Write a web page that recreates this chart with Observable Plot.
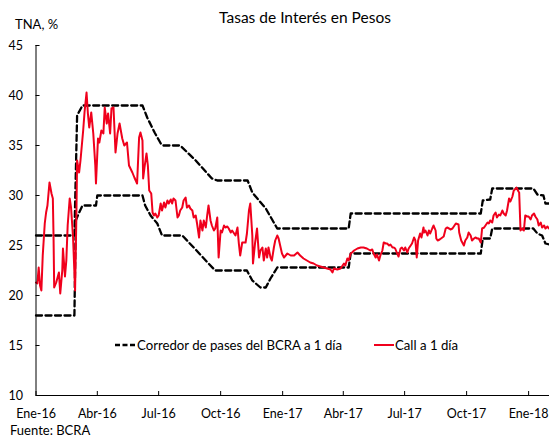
<!DOCTYPE html>
<html><head><meta charset="utf-8">
<script src="https://cdn.jsdelivr.net/npm/d3@7"></script>
<script src="https://cdn.jsdelivr.net/npm/@observablehq/plot@0.6"></script>
<style>
body{margin:0;background:#fff;}
#wrap{position:relative;width:549px;height:439px;font-family:Lato,sans-serif;color:#000;overflow:hidden;}
.t{position:absolute;white-space:nowrap;line-height:14px;}
</style></head><body>
<div id="wrap"></div>
<script>
const chartTitle = "Tasas de Interés en Pesos";
const yUnit = "TNA, %";
const source = "Fuente: BCRA";
const seriesNames = ["Corredor de pases del BCRA a 1 día", "Call a 1 día"];
const yTicks = [10, 15, 20, 25, 30, 35, 40, 45];
const xTickDates = ["2016-01-01","2016-04-01","2016-07-01","2016-10-01","2017-01-01","2017-04-01","2017-07-01","2017-10-01","2018-01-01"];
const xTickLabels = ["Ene-16","Abr-16","Jul-16","Oct-16","Ene-17","Abr-17","Jul-17","Oct-17","Ene-18"];
const xDomain = ["2016-01-01", "2018-02-01"];

const corridorUpper = [
["2016-01-01",26],["2016-02-27",26],["2016-03-02",38],["2016-03-10",39],["2016-06-07",39],["2016-06-14",37.8],
["2016-06-25",36.3],["2016-07-05",35.1],["2016-07-08",35],["2016-08-02",35],["2016-08-25",33.5],["2016-09-18",31.7],
["2016-09-26",31.5],["2016-11-10",31.5],["2016-11-17",30.3],["2016-12-07",28.7],["2016-12-24",26.7],["2017-04-09",26.7],
["2017-04-12",28.2],["2017-10-22",28.2],["2017-10-25",29.5],["2017-11-05",29.6],["2017-11-08",30.7],["2018-01-08",30.7],
["2018-01-14",30.1],["2018-01-23",30],["2018-01-26",29.2],["2018-02-01",29.2]
];
const corridorLower = [
["2016-01-01",18],["2016-02-27",18],["2016-02-29",27.5],["2016-03-05",28.3],["2016-03-10",29],["2016-03-30",29],
["2016-04-01",30],["2016-06-07",30],["2016-06-11",29],["2016-06-19",28],["2016-06-29",27.2],["2016-07-06",26],
["2016-08-05",26],["2016-08-22",24.8],["2016-09-13",23.2],["2016-09-23",22.5],["2016-11-09",22.5],["2016-11-17",21.5],
["2016-11-29",20.8],["2016-12-07",20.8],["2016-12-14",21.7],["2016-12-24",22.8],["2017-04-09",22.8],["2017-04-12",24.2],
["2017-10-22",24.2],["2017-10-25",25.7],["2017-11-05",25.7],["2017-11-08",26.7],["2018-01-08",26.7],["2018-01-14",26.2],
["2018-01-21",26],["2018-01-26",25.2],["2018-02-01",25.1]
];
const callRate = [
["2016-01-01",21.3],["2016-01-03",21.2],["2016-01-05",22.8],["2016-01-07",21.0],["2016-01-09",20.5],["2016-01-11",24],
["2016-01-14",27.2],["2016-01-16",28.3],["2016-01-18",29],["2016-01-21",31.3],["2016-01-24",30.2],["2016-01-26",29.7],
["2016-01-27",26],["2016-01-28",20.8],["2016-01-31",21.3],["2016-02-04",22.3],["2016-02-06",20.2],["2016-02-09",22.5],
["2016-02-10",24.7],["2016-02-13",21.9],["2016-02-15",23.5],["2016-02-17",27],["2016-02-20",29.7],["2016-02-22",28.8],
["2016-02-25",25.8],["2016-02-28",20.5],["2016-03-01",28.2],["2016-03-02",33.5],["2016-03-05",32.3],["2016-03-07",33.5],
["2016-03-11",36.5],["2016-03-13",38.3],["2016-03-16",40.3],["2016-03-18",38.2],["2016-03-20",36.8],["2016-03-23",38.3],
["2016-03-26",36.2],["2016-03-29",33],["2016-03-30",31.2],["2016-04-02",35.7],["2016-04-04",35.3],["2016-04-07",36.5],
["2016-04-10",36.2],["2016-04-12",38.8],["2016-04-15",37.2],["2016-04-17",38.2],["2016-04-20",36.2],["2016-04-22",38.7],
["2016-04-25",38.8],["2016-04-28",34.3],["2016-05-01",36.2],["2016-05-04",37.2],["2016-05-08",35.7],["2016-05-11",35],
["2016-05-15",35.3],["2016-05-18",33],["2016-05-23",32.3],["2016-05-26",31.8],["2016-05-30",31.2],["2016-06-02",35.8],
["2016-06-04",36.3],["2016-06-07",35.5],["2016-06-08",31.7],["2016-06-10",32.8],["2016-06-13",34.2],["2016-06-15",33],
["2016-06-17",30.5],["2016-06-20",30.2],["2016-06-22",28.3],["2016-06-24",28],["2016-06-26",28.2],["2016-06-29",27.8],
["2016-07-01",28],["2016-07-04",29.2],["2016-07-06",28.5],["2016-07-09",29.3],["2016-07-11",28.8],["2016-07-14",29.5],
["2016-07-16",29.2],["2016-07-19",29.6],["2016-07-21",29.2],["2016-07-23",29.7],["2016-07-26",29.5],["2016-07-29",27.8],
["2016-07-31",28],["2016-08-02",28.5],["2016-08-05",28.8],["2016-08-07",29.5],["2016-08-10",29.8],["2016-08-12",28.8],
["2016-08-15",29],["2016-08-17",28.7],["2016-08-20",28.5],["2016-08-22",27.8],["2016-08-25",28],["2016-08-27",27.2],
["2016-08-30",25.8],["2016-09-01",27.5],["2016-09-04",26.5],["2016-09-06",27.5],["2016-09-09",26.8],["2016-09-11",28],
["2016-09-13",29],["2016-09-16",27.5],["2016-09-18",27],["2016-09-21",26.5],["2016-09-23",26.7],["2016-09-26",27.8],
["2016-09-28",23.8],["2016-10-01",26.5],["2016-10-03",26.3],["2016-10-06",27],["2016-10-08",26.8],["2016-10-11",26.9],
["2016-10-13",26.7],["2016-10-16",26.3],["2016-10-18",26.5],["2016-10-21",26.2],["2016-10-23",26],["2016-10-26",26.8],
["2016-10-28",25.2],["2016-10-30",24],["2016-11-02",25.3],["2016-11-04",25.3],["2016-11-07",25.3],["2016-11-09",26.2],
["2016-11-12",28.5],["2016-11-14",29.2],["2016-11-17",26],["2016-11-18",23.2],["2016-11-21",25.2],["2016-11-24",26.7],
["2016-11-27",23.8],["2016-11-29",24.5],["2016-12-02",24.8],["2016-12-04",23.5],["2016-12-07",24.7],["2016-12-09",23.8],
["2016-12-11",24.8],["2016-12-14",23.8],["2016-12-16",23.5],["2016-12-19",24.8],["2016-12-21",25.5],["2016-12-24",26],
["2016-12-26",25.7],["2016-12-29",24.8],["2016-12-31",24.2],["2017-01-03",23.8],["2017-01-08",24.2],["2017-01-13",24],
["2017-01-18",24],["2017-01-23",24.3],["2017-01-27",24],["2017-02-01",23.7],["2017-02-06",23.5],["2017-02-11",23.3],
["2017-02-16",23.2],["2017-02-21",23],["2017-02-26",22.9],["2017-03-03",22.8],["2017-03-08",22.7],["2017-03-13",22.6],
["2017-03-16",22.3],["2017-03-18",22.7],["2017-03-23",22.6],["2017-03-28",22.7],["2017-04-02",23.2],["2017-04-04",23],
["2017-04-07",23.7],["2017-04-09",23.5],["2017-04-12",24.2],["2017-04-14",24.3],["2017-04-17",24.5],["2017-04-22",24.7],
["2017-04-27",24.8],["2017-05-01",24.8],["2017-05-06",24.7],["2017-05-11",24.5],["2017-05-14",24.6],["2017-05-16",24.2],
["2017-05-19",23.8],["2017-05-21",24.1],["2017-05-24",23.5],["2017-05-26",24],["2017-05-29",24.5],["2017-05-31",25.3],
["2017-06-03",25.2],["2017-06-05",25.2],["2017-06-08",25],["2017-06-10",25.1],["2017-06-13",24.8],["2017-06-15",24.8],
["2017-06-17",24.7],["2017-06-20",24.2],["2017-06-22",23.9],["2017-06-25",24.7],["2017-06-27",24.8],["2017-06-30",24.5],
["2017-07-02",24.8],["2017-07-05",24.3],["2017-07-07",24.7],["2017-07-10",25],["2017-07-12",25.2],["2017-07-15",25.8],
["2017-07-17",25.5],["2017-07-19",23.8],["2017-07-21",25.5],["2017-07-24",26.2],["2017-07-26",25.8],["2017-07-29",26.8],
["2017-07-30",26.3],["2017-08-01",26.5],["2017-08-04",26],["2017-08-06",26.5],["2017-08-08",26.2],["2017-08-11",26.7],
["2017-08-13",27],["2017-08-16",26.5],["2017-08-17",25.7],["2017-08-19",25.5],["2017-08-22",25.6],["2017-08-24",25.7],
["2017-08-26",25.8],["2017-08-28",25.9],["2017-08-31",26.7],["2017-09-02",26.8],["2017-09-05",26.7],["2017-09-07",26.6],
["2017-09-10",26.7],["2017-09-15",27.2],["2017-09-19",27.1],["2017-09-20",26.3],["2017-09-23",25.5],["2017-09-27",25],
["2017-09-29",25.5],["2017-10-02",25.8],["2017-10-04",26.3],["2017-10-07",26],["2017-10-09",25.5],["2017-10-12",25.7],
["2017-10-14",25.8],["2017-10-17",25.7],["2017-10-19",25.7],["2017-10-22",25.3],["2017-10-24",26.7],["2017-10-27",26.8],
["2017-10-29",27],["2017-11-01",27.3],["2017-11-03",27.2],["2017-11-05",27.5],["2017-11-08",27.3],["2017-11-10",28],
["2017-11-13",28.3],["2017-11-15",27.8],["2017-11-18",28.1],["2017-11-20",28],["2017-11-23",28.5],["2017-11-25",28.2],
["2017-11-28",28],["2017-11-30",28.5],["2017-12-03",29.7],["2017-12-05",29.4],["2017-12-08",29.9],["2017-12-10",30.5],
["2017-12-13",30.7],["2017-12-14",30.8],["2017-12-17",30.4],["2017-12-18",30.3],["2017-12-20",26.5],["2017-12-22",26.7],
["2017-12-25",26.5],["2017-12-27",28],["2017-12-30",27.9],["2018-01-01",27.9],["2018-01-04",27.6],["2018-01-06",28],
["2018-01-09",28.2],["2018-01-11",27.9],["2018-01-14",27.6],["2018-01-16",27],["2018-01-19",27.3],["2018-01-21",26.8],
["2018-01-24",27],["2018-01-26",26.7],["2018-01-29",26.9],["2018-01-31",26.7]
];

const parse = d3.utcParse("%Y-%m-%d");
const toRows = arr => arr.map(([d, v]) => ({date: parse(d), value: v}));
const upper = toRows(corridorUpper), lower = toRows(corridorLower), call = toRows(callRate);
const xt = xTickDates.map(parse);
const labelOf = new Map(xt.map((d, i) => [+d, xTickLabels[i]]));
const x0 = parse(xDomain[0]), x1 = parse(xDomain[1]);
const tickLenDays = 6;
const x0b = d3.utcDay.offset(x0, tickLenDays);

const RED = "#f0001c";
const dash = "6,3.5";

const chart = Plot.plot({
  width: 549, height: 439,
  marginTop: 45, marginBottom: 44, marginLeft: 35.5, marginRight: 0,
  style: {fontFamily: "Lato, sans-serif", fontSize: "12px", color: "#000", background: "#fff"},
  x: {type: "utc", domain: [x0, x1]},
  y: {domain: [10, 45]},
  marks: [
    Plot.axisY({ticks: yTicks, tickSize: 0, tickPadding: 13, label: null, fontSize: 12.5}),
    Plot.axisX({ticks: xt, tickSize: 0, tickPadding: 14, label: null, tickFormat: d => labelOf.get(+d), fontSize: 12.5}),
    Plot.ruleY(yTicks, {y: d => d, x1: x0, x2: x0b, stroke: "#000", strokeWidth: 1}),
    Plot.ruleX(xt, {x: d => d, y1: 10, y2: 10.4, stroke: "#000", strokeWidth: 1}),
    Plot.line(upper, {x: "date", y: "value", stroke: "#000", strokeWidth: 2.3, strokeDasharray: dash}),
    Plot.line(lower, {x: "date", y: "value", stroke: "#000", strokeWidth: 2.3, strokeDasharray: dash}),
    Plot.line(call, {x: "date", y: "value", stroke: RED, strokeWidth: 2, strokeLinejoin: "round"}),
    Plot.ruleY([10], {x1: x0, x2: x1, stroke: "#000", strokeWidth: 1}),
    Plot.ruleX([x0], {y1: 10, y2: 45, stroke: "#000", strokeWidth: 1})
  ]
});

const wrap = document.getElementById("wrap");
wrap.appendChild(chart);
function addText(txt, left, top, size, center) {
  const el = document.createElement("div");
  el.className = "t";
  el.textContent = txt;
  el.style.left = left + "px";
  el.style.top = top + "px";
  el.style.fontSize = size + "px";
  if (center) el.style.transform = "translateX(-50%)";
  wrap.appendChild(el);
  return el;
}
addText(chartTitle, 305, 10, 15.5, true);
addText(yUnit, 15, 17, 13, false);
addText(source, 10, 423, 13, false);
// legend
function addSwatch(left, top, color, dashed) {
  const ns = "http://www.w3.org/2000/svg";
  const s = document.createElementNS(ns, "svg");
  s.setAttribute("width", 20); s.setAttribute("height", 6);
  s.style.position = "absolute"; s.style.left = left + "px"; s.style.top = (top - 3) + "px";
  const l = document.createElementNS(ns, "line");
  l.setAttribute("x1", 0); l.setAttribute("x2", 20); l.setAttribute("y1", 3); l.setAttribute("y2", 3);
  l.setAttribute("stroke", color); l.setAttribute("stroke-width", dashed ? 2.3 : 2);
  if (dashed) l.setAttribute("stroke-dasharray", "5,2.5");
  s.appendChild(l);
  wrap.appendChild(s);
}
addSwatch(115, 345, "#000", true);
addText(seriesNames[0], 137, 338, 13.2, false);
addSwatch(374, 345, RED, false);
addText(seriesNames[1], 395, 338, 13.2, false);
</script>
</body></html>
